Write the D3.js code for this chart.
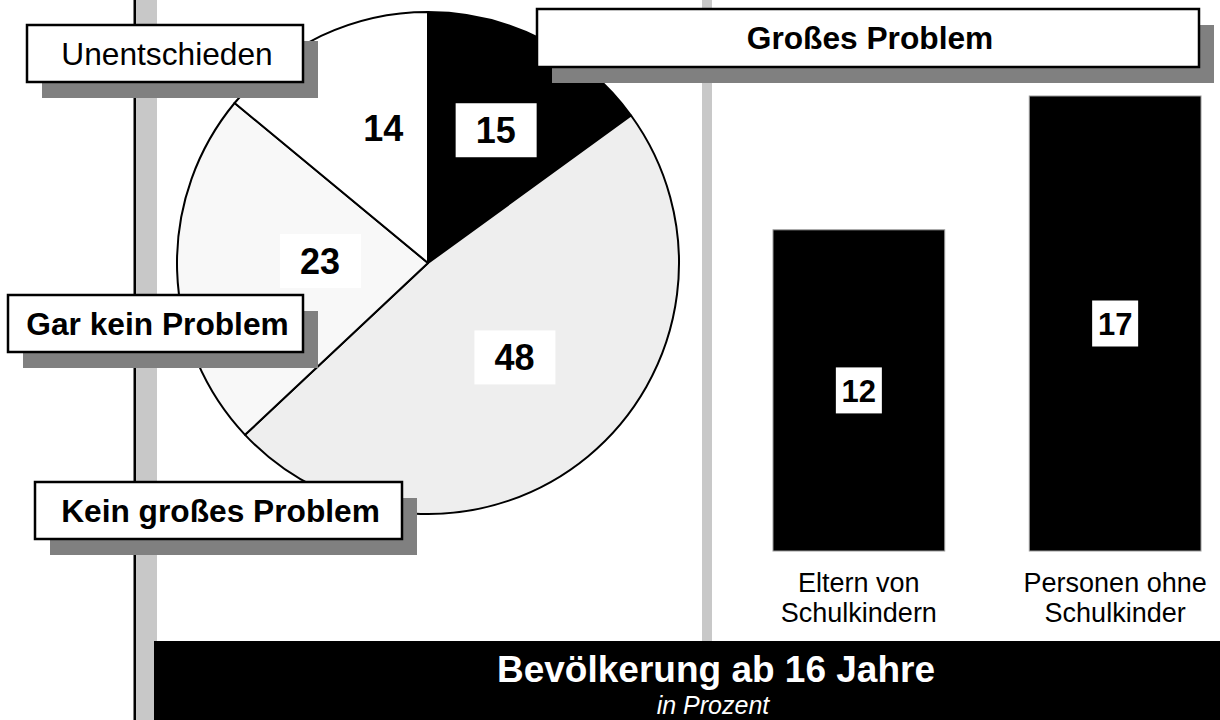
<!DOCTYPE html>
<html>
<head>
<meta charset="utf-8">
<script src="https://cdn.jsdelivr.net/npm/d3@7"></script>
<style>
  html, body { margin: 0; padding: 0; background: #fff; }
  svg { display: block; font-family: 'Liberation Sans', Arial, sans-serif; }
</style>
</head>
<body>
<svg width="1220" height="720"></svg>
<script>
// data
const pieCategories = ['Großes Problem', 'Kein großes Problem', 'Gar kein Problem', 'Unentschieden']
const pieValues = [15, 48, 23, 14]
const barCategories = [['Eltern von', 'Schulkindern'], ['Personen ohne', 'Schulkinder']]
const barValues = [12, 17]
const titleText = 'Bevölkerung ab 16 Jahre'
const subtitleText = 'in Prozent'

const pieColors = ['#000000', '#eeeeee', '#f8f8f8', '#ffffff']
const shadowColor = '#808080'

const svg = d3.select('svg')

// background frame
svg.append('rect').attr('x', 136).attr('y', 0).attr('width', 21).attr('height', 720).attr('fill', '#c8c8c8')
svg.append('rect').attr('x', 133.5).attr('y', 0).attr('width', 2.5).attr('height', 720).attr('fill', '#000')
svg.append('rect').attr('x', 702).attr('y', 0).attr('width', 10).attr('height', 641).attr('fill', '#c8c8c8')

// pie
const cx = 428, cy = 263, radius = 251
const pie = d3.pie().sort(null).value(d => d)
const arcs = pie(pieValues)
const arc = d3.arc().innerRadius(0).outerRadius(radius)

const pg = svg.append('g').attr('transform', `translate(${cx},${cy})`)
pg.selectAll('path')
  .data(arcs)
  .enter()
  .append('path')
  .attr('d', arc)
  .attr('fill', (d, i) => pieColors[i])
  .attr('stroke', '#000')
  .attr('stroke-width', 2)
  .attr('stroke-linejoin', 'round')

// value labels in the slices (distance from centre differs per slice)
const labelDist = [149, 128, 108, 142]
const labelTurn = [0, -0.05, 0.05, 0.12]
const pieLabels = pg.selectAll('.pl')
  .data(arcs)
  .enter()
  .append('g')
  .attr('transform', (d, i) => {
    const a = (d.startAngle + d.endAngle) / 2 + labelTurn[i]
    return `translate(${Math.sin(a) * labelDist[i]},${-Math.cos(a) * labelDist[i]})`
  })
pieLabels.append('rect')
  .attr('x', -40).attr('y', -27).attr('width', 81).attr('height', 54)
  .attr('fill', '#fff')
pieLabels.append('text')
  .attr('text-anchor', 'middle')
  .attr('dy', '0.36em')
  .attr('font-weight', 'bold')
  .attr('font-size', 36)
  .text(d => d.data)

// category boxes with drop shadow
const boxes = [
  { x: 537, y: 9, w: 662, h: 58, bold: true },
  { x: 35, y: 482, w: 367, h: 57, bold: true },
  { x: 8, y: 295, w: 295, h: 57, bold: true },
  { x: 27, y: 25, w: 276, h: 57, bold: false }
]
const bg = svg.append('g')
  .selectAll('g')
  .data(pieCategories)
  .enter()
  .append('g')
  .attr('transform', (d, i) => `translate(${boxes[i].x},${boxes[i].y})`)
bg.append('rect')
  .attr('x', 15).attr('y', 16)
  .attr('width', (d, i) => boxes[i].w).attr('height', (d, i) => boxes[i].h)
  .attr('fill', shadowColor)
bg.append('rect')
  .attr('width', (d, i) => boxes[i].w).attr('height', (d, i) => boxes[i].h)
  .attr('fill', '#fff')
  .attr('stroke', '#000')
  .attr('stroke-width', 2.5)
bg.append('text')
  .attr('x', (d, i) => boxes[i].w / 2 + 2)
  .attr('y', (d, i) => boxes[i].h / 2)
  .attr('dy', '0.36em')
  .attr('text-anchor', 'middle')
  .attr('font-size', 31.7)
  .attr('font-weight', (d, i) => boxes[i].bold ? 'bold' : 'normal')
  .text(d => d)

// bars
const x = d3.scaleBand()
  .domain(barValues.map((d, i) => i))
  .range([773, 1201])
  .paddingInner(0.33)
const y = d3.scaleLinear().domain([0, 17]).range([551, 96])

const bars = svg.append('g')
  .selectAll('g')
  .data(barValues)
  .enter()
  .append('g')
bars.append('rect')
  .attr('x', (d, i) => x(i))
  .attr('y', d => y(d))
  .attr('width', x.bandwidth())
  .attr('height', d => y(0) - y(d))
  .attr('fill', '#000')
  .attr('stroke', '#999')
  .attr('stroke-width', 1)
bars.append('rect')
  .attr('x', (d, i) => x(i) + x.bandwidth() / 2 - 23)
  .attr('y', d => (y(d) + y(0)) / 2 - 23)
  .attr('width', 46).attr('height', 46)
  .attr('fill', '#fff')
bars.append('text')
  .attr('x', (d, i) => x(i) + x.bandwidth() / 2)
  .attr('y', d => (y(d) + y(0)) / 2)
  .attr('dy', '0.36em')
  .attr('text-anchor', 'middle')
  .attr('font-weight', 'bold')
  .attr('font-size', 31)
  .text(d => d)

// category labels under bars
svg.append('g')
  .selectAll('text')
  .data(barCategories)
  .enter()
  .append('text')
  .attr('text-anchor', 'middle')
  .attr('font-size', 27)
  .each(function (d, i) {
    d3.select(this).selectAll('tspan')
      .data(d)
      .enter()
      .append('tspan')
      .attr('x', x(i) + x.bandwidth() / 2)
      .attr('y', (t, j) => 592 + j * 30)
      .text(t => t)
  })

// bottom title band
svg.append('rect').attr('x', 154).attr('y', 641).attr('width', 1066).attr('height', 79).attr('fill', '#000')
svg.append('text')
  .attr('x', 716).attr('y', 682)
  .attr('text-anchor', 'middle')
  .attr('fill', '#fff')
  .attr('font-weight', 'bold')
  .attr('font-size', 37)
  .text(titleText)
svg.append('text')
  .attr('x', 713).attr('y', 714)
  .attr('text-anchor', 'middle')
  .attr('fill', '#fff')
  .attr('font-style', 'italic')
  .attr('font-size', 25)
  .text(subtitleText)
</script>
</body>
</html>
